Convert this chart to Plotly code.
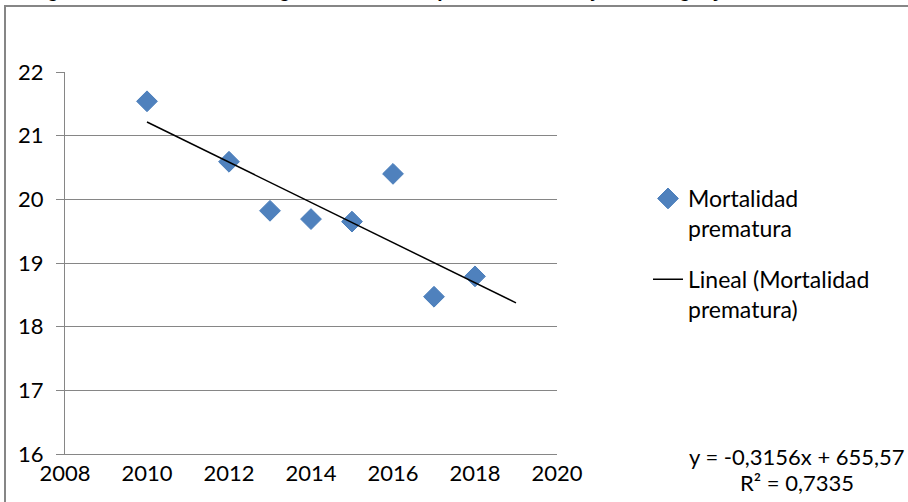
import plotly.graph_objects as go

# data
years = [2010, 2012, 2013, 2014, 2015, 2016, 2017, 2018]
mortalidad = [21.54, 20.59, 19.82, 19.69, 19.65, 20.40, 18.47, 18.79]
trend_x = [2010, 2019]
slope, intercept = -0.3156, 655.57
trend_y = [slope * x + intercept for x in trend_x]

title_text = "Figura 3. Tendencia del riesgo de mortalidad prematura en mujeres, Uruguay"
eq_line1 = "y = -0,3156x + 655,57"
eq_line2 = "R² = 0,7335"

FONT = "Lato"
GRID = "#868686"

# plot area in pixels
W, H = 908, 502
L, R, T, B = 65, 557, 72, 454


def px_x(p):
    return (p - L) / (R - L)


def px_y(p):
    return (B - p) / (B - T)


fig = go.Figure()
fig.add_trace(go.Scatter(
    x=years, y=mortalidad, mode="markers", name="Mortalidad<br>prematura",
    legendgroup="a",
    marker=dict(symbol="diamond", size=16, color="#4F81BD",
                line=dict(width=1, color="#4A7EBB")),
))
fig.add_trace(go.Scatter(
    x=trend_x, y=trend_y, mode="lines", name="Lineal (Mortalidad<br>prematura)",
    legendgroup="b",
    line=dict(color="black", width=1.5),
))

fig.update_layout(
    width=W, height=H,
    margin=dict(l=L, r=W - R, t=T, b=H - B),
    paper_bgcolor="white", plot_bgcolor="white",
    font=dict(family=FONT, size=22, color="black"),
    showlegend=True,
    legend=dict(x=px_x(648), y=px_y(177), xanchor="left", yanchor="top",
                font=dict(size=23), tracegroupgap=18, valign="top",
                bgcolor="rgba(0,0,0,0)"),
    xaxis=dict(range=[2008, 2020], dtick=2, tick0=2008, showgrid=False,
               showline=True, linecolor=GRID, linewidth=1,
               ticks="", zeroline=False, tickfont=dict(size=22)),
    yaxis=dict(range=[16, 22], dtick=1, showgrid=True, gridcolor=GRID, gridwidth=1,
               showline=True, linecolor=GRID, linewidth=1,
               ticks="outside", ticklen=8, tickcolor=GRID, zeroline=False,
               ticklabelstandoff=8, tickfont=dict(size=22)),
)

# chart border (only left and top edges fall inside the window)
fig.add_shape(type="rect", xref="paper", yref="paper",
              x0=px_x(5), x1=px_x(1200), y0=px_y(800), y1=px_y(6),
              line=dict(color=GRID, width=2), layer="below")

# title, almost entirely above the visible area
fig.add_annotation(text="<b>" + title_text + "</b>", xref="paper", yref="paper",
                   x=px_x(28), y=px_y(3), xanchor="left", yanchor="bottom",
                   showarrow=False, font=dict(family="Liberation Sans", size=19))

fig.add_annotation(text=eq_line1, xref="paper", yref="paper",
                   x=px_x(797), y=px_y(456), xanchor="center", yanchor="middle",
                   showarrow=False, font=dict(size=22))
fig.add_annotation(text=eq_line2, xref="paper", yref="paper",
                   x=px_x(797), y=px_y(482), xanchor="center", yanchor="middle",
                   showarrow=False, font=dict(size=22))

fig.write_html("out.html", config={"displayModeBar": False},
               post_script="document.body.style.margin='0';")
